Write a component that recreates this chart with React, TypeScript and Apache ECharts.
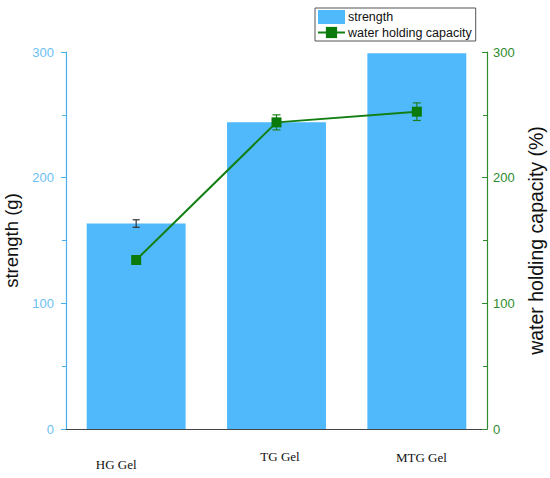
import React, { useEffect, useRef } from "react";
import * as echarts from "echarts";

const categories = ["HG Gel", "TG Gel", "MTG Gel"];
const strengthValues = [163.5, 244, 299];
const strengthErrors = [3, 3, 0];
const waterValues = [134.5, 244, 252.5];
const waterErrors = [2, 6, 7];
const yTicks = { min: 0, max: 300, interval: 100 };

export default function App() {
  const ref = useRef<HTMLDivElement>(null);
  useEffect(() => {
    if (!ref.current) return;
    const chart = echarts.init(ref.current, null, { renderer: "svg" });

    const errRender = (color: string, cap: number) => (params: any, api: any) => {
      const x = api.value(0);
      const v = api.value(1);
      const e = api.value(2);
      if (!e) return { type: "group", children: [] };
      const hi = api.coord([x, v + e]);
      const lo = api.coord([x, v - e]);
      const style = { stroke: color, lineWidth: 1.2 };
      return {
        type: "group",
        children: [
          { type: "line", shape: { x1: hi[0], y1: hi[1], x2: lo[0], y2: lo[1] }, style },
          { type: "line", shape: { x1: hi[0] - cap, y1: hi[1], x2: hi[0] + cap, y2: hi[1] }, style },
          { type: "line", shape: { x1: lo[0] - cap, y1: lo[1], x2: lo[0] + cap, y2: lo[1] }, style },
        ],
      };
    };

    const pads: Record<string, any> = {
      c0: { padding: [8, 40, 0, 0] },
      c1: { padding: [0, 0, 0, 7] },
      c2: { padding: [1, 0, 0, 9] },
    };
    const rich: Record<string, any> = {};
    Object.keys(pads).forEach((k) => {
      rich[k] = {
        fontFamily: "'Liberation Serif', 'Times New Roman', serif",
        fontSize: 13,
        color: "#111",
        ...pads[k],
      };
    });

    chart.setOption({
      animation: false,
      backgroundColor: "#fff",
      grid: { left: 66, right: 63, top: 52, bottom: 49, containLabel: false, outerBoundsMode: "none" },
      legend: {
        left: 315,
        top: 8,
        orient: "vertical",
        padding: [2, 4, 2, 2],
        itemGap: 2,
        itemWidth: 27,
        itemHeight: 14,
        borderColor: "#555",
        borderWidth: 1,
        backgroundColor: "#fff",
        textStyle: { fontFamily: "'Liberation Sans', Arial, sans-serif", fontSize: 12.5, color: "#111", padding: [0, 0, 0, -2] },
        data: [
          { name: "strength", icon: "rect" },
          { name: "water holding capacity" },
        ],
      },
      xAxis: {
        type: "category",
        data: categories,
        axisLine: { lineStyle: { color: "#444", width: 1.2 } },
        axisTick: { show: false },
        axisLabel: {
          margin: 21,
          formatter: (v: string, i: number) => `{c${i}|${v}}`,
          rich,
        },
      },
      yAxis: [
        {
          type: "value",
          position: "left",
          ...yTicks,
          name: "strength (g)",
          nameLocation: "middle",
          nameGap: 38,
          nameTextStyle: { fontFamily: "'Liberation Sans', Arial, sans-serif", fontSize: 18.5, color: "#111" },
          axisLine: { show: true, lineStyle: { color: "#4AAEEA", width: 1.2 } },
          axisTick: { show: true, length: 5, lineStyle: { color: "#4AAEEA" } },
          minorTick: { show: true, splitNumber: 2, length: 4, lineStyle: { color: "#4AAEEA" } },
          axisLabel: { margin: 12, fontFamily: "'Liberation Sans', Arial, sans-serif", fontSize: 13, color: "#6CC0F2" },
          splitLine: { show: false },
        },
        {
          type: "value",
          position: "right",
          ...yTicks,
          name: "water holding capacity (%)",
          nameLocation: "middle",
          nameGap: 38,
          nameTextStyle: { fontFamily: "'Liberation Sans', Arial, sans-serif", fontSize: 19.5, color: "#111" },
          axisLine: { show: true, lineStyle: { color: "#2E8B2E", width: 1.2 } },
          axisTick: { show: true, inside: true, length: 5, lineStyle: { color: "#2E8B2E" } },
          minorTick: { show: true, splitNumber: 2, length: 4, lineStyle: { color: "#2E8B2E" } },
          axisLabel: { margin: 6, fontFamily: "'Liberation Sans', Arial, sans-serif", fontSize: 13, color: "#2E8B2E" },
          splitLine: { show: false },
        },
      ],
      series: [
        {
          name: "strength",
          type: "bar",
          yAxisIndex: 0,
          barWidth: "70.5%",
          data: strengthValues,
          itemStyle: { color: "#50B9FC" },
          z: 2,
        },
        {
          name: "strength err",
          type: "custom",
          yAxisIndex: 0,
          data: strengthValues.map((v, i) => [i, v, strengthErrors[i]]),
          renderItem: errRender("#333", 3.5),
          z: 3,
          silent: true,
        },
        {
          name: "water err",
          type: "custom",
          yAxisIndex: 1,
          data: waterValues.map((v, i) => [i, v, waterErrors[i]]),
          renderItem: errRender("#1E7F1E", 4),
          z: 4,
          silent: true,
        },
        {
          name: "water holding capacity",
          type: "line",
          yAxisIndex: 1,
          data: waterValues,
          symbol: "rect",
          symbolSize: 10,
          lineStyle: { color: "#137F13", width: 2 },
          itemStyle: { color: "#0A7A0A" },
          z: 5,
        },
      ],
    });
    return () => chart.dispose();
  }, []);
  return (
    <div
      ref={ref}
      style={{ position: "absolute", left: 0, top: 0, width: 550, height: 478 }}
    />
  );
}
